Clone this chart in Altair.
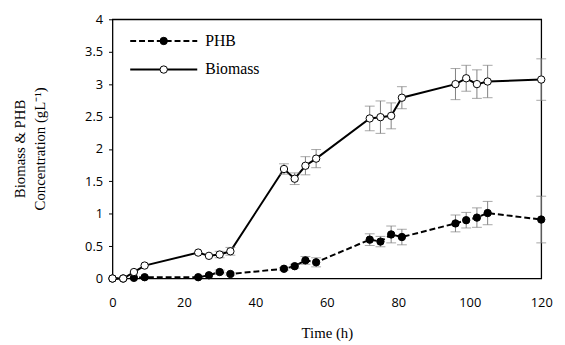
import altair as alt
import pandas as pd

time_h = [0, 3, 6, 9, 24, 27, 30, 33, 48, 51, 54, 57, 72, 75, 78, 81, 96, 99, 102, 105, 120]
biomass = [0, 0, 0.10, 0.20, 0.40, 0.35, 0.37, 0.42, 1.69, 1.54, 1.74, 1.85,
           2.47, 2.49, 2.51, 2.79, 3.00, 3.09, 3.00, 3.04, 3.07]
biomass_err = [0, 0, 0, 0, 0, 0, 0.05, 0.06, 0.08, 0.09, 0.14, 0.14,
               0.19, 0.25, 0.20, 0.17, 0.24, 0.20, 0.22, 0.25, 0.32]
phb = [0, 0, 0.01, 0.02, 0.02, 0.05, 0.10, 0.07, 0.15, 0.19, 0.28, 0.25,
       0.60, 0.57, 0.68, 0.64, 0.85, 0.90, 0.94, 1.01, 0.91]
phb_err = [0, 0, 0, 0, 0, 0, 0.03, 0.02, 0.02, 0.03, 0.06, 0.07,
           0.09, 0.08, 0.13, 0.12, 0.13, 0.12, 0.15, 0.18, 0.36]
series_names = ["PHB", "Biomass"]
y_ticks = [0, 0.5, 1, 1.5, 2, 2.5, 3, 3.5, 4]
x_ticks = [0, 20, 40, 60, 80, 100, 120]

rows = []
for name, vals, errs in [("PHB", phb, phb_err), ("Biomass", biomass, biomass_err)]:
    for t, v, e in zip(time_h, vals, errs):
        rows.append({"time": t, "value": v, "err": e, "lo": v - e, "hi": v + e, "series": name})
df = pd.DataFrame(rows)

x_scale = alt.Scale(domain=[0, 120], nice=False, zero=False)
y_scale = alt.Scale(domain=[0, 4], nice=False)

x_axis = alt.Axis(values=x_ticks, title="Time (h)", ticks=False, tickSize=0,
                  labelPadding=18, labelFlush=False, titleFontWeight="normal",
                  titleBaseline="middle", titleY=55)
y_axis = alt.Axis(values=y_ticks, format="~g", tickCount=9,
                  title=["Biomass & PHB", "Concentration (gL\u207b\u00b9)"],
                  ticks=True, tickSize=4, labelPadding=6, labelOverlap=False,
                  titleFontWeight="normal",
                  titleAngle=270, titleAlign="center", titleBaseline="bottom",
                  titleX=-86, titleY=131, titleLineHeight=20)

fill_scale = alt.Scale(domain=series_names, range=["black", "white"])

X = alt.X("time:Q", scale=x_scale, axis=x_axis)
Y = alt.Y("value:Q", scale=y_scale, axis=y_axis)
Ylo = alt.Y("lo:Q", scale=y_scale, axis=y_axis)
Yhi = alt.Y("hi:Q", scale=y_scale, axis=y_axis)

base = alt.Chart(df)

line_phb = base.transform_filter("datum.series == 'PHB'").mark_line(
    color="black", strokeWidth=2, strokeDash=[6, 3]).encode(x=X, y=Y)
line_bio = base.transform_filter("datum.series == 'Biomass'").mark_line(
    color="black", strokeWidth=2).encode(x=X, y=Y)

err_base = base.transform_filter("datum.err > 0")
err_rule = err_base.mark_rule(color="#808080", strokeWidth=1).encode(
    x=X, y=Ylo, y2="hi:Q")
err_cap_lo = err_base.mark_tick(color="#808080", thickness=1, size=10, orient="horizontal").encode(
    x=X, y=Ylo)
err_cap_hi = err_base.mark_tick(color="#808080", thickness=1, size=10, orient="horizontal").encode(
    x=X, y=Yhi)

points = base.mark_point(filled=True, shape="circle", size=56, stroke="black",
                         strokeWidth=1, opacity=1).encode(
    x=X, y=Y,
    fill=alt.Fill("series:N", scale=fill_scale, legend=None),
)

# hand-drawn legend in the top-left corner of the plot area
legend_layers = []
for i, (name, dash, fill) in enumerate([("PHB", [6, 3], "black"), ("Biomass", [1, 0], "white")]):
    ldf = alt.Chart(pd.DataFrame({"label": [name]}))
    ypos = 22 + 29 * i
    legend_layers.append(ldf.mark_rule(color="black", strokeWidth=2, strokeDash=dash).encode(
        x=alt.value(18), x2=alt.value(86), y=alt.value(ypos)))
    legend_layers.append(ldf.mark_point(filled=True, shape="circle", size=56, fill=fill,
                                        stroke="black", strokeWidth=1, opacity=1).encode(
        x=alt.value(52), y=alt.value(ypos)))
    legend_layers.append(ldf.mark_text(align="left", baseline="middle", font="Liberation Serif",
                                       fontSize=16, color="black").encode(
        x=alt.value(94), y=alt.value(ypos), text="label:N"))

chart = alt.layer(line_phb, line_bio, err_rule, err_cap_lo, err_cap_hi, points,
                  *legend_layers).properties(
    width=435, height=263, autosize="none", background="white",
    padding={"left": 106, "top": 9, "right": 16, "bottom": 65},
).configure_view(
    stroke="black", strokeWidth=1.3
).configure_axis(
    grid=False, domain=False, tickColor="black",
    labelFont="Open Sans", labelFontSize=13, labelColor="black",
    titleFont="Liberation Serif", titleFontSize=15, titleFontWeight="normal",
    titleColor="black",
)

chart.save("out.html", embed_options={"renderer": "svg", "actions": False})
